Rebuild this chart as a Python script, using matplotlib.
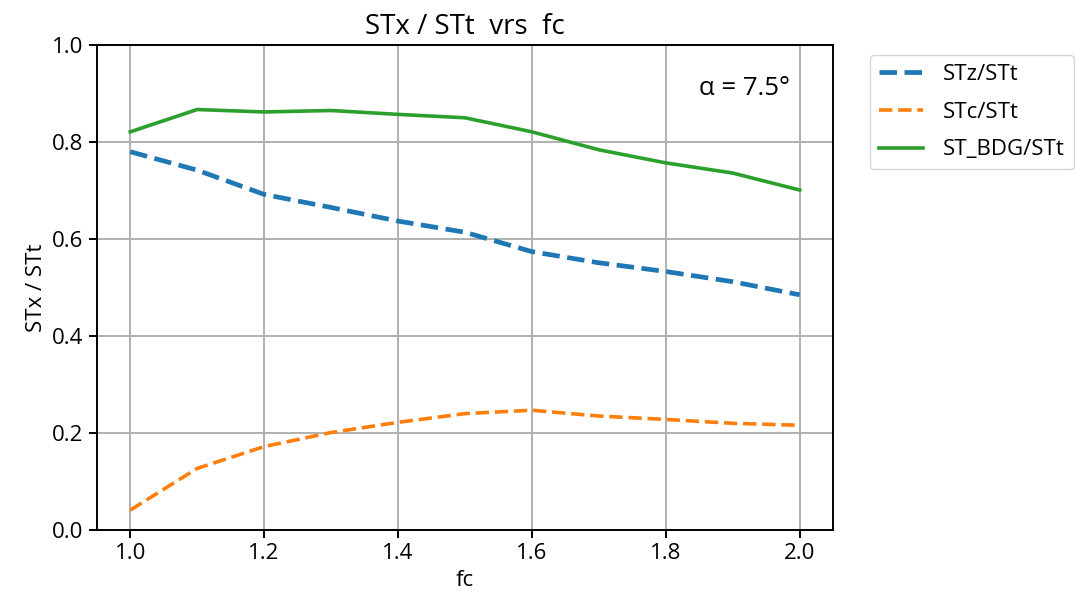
import matplotlib
matplotlib.use("Agg")
import matplotlib.pyplot as plt

plt.rcParams['font.family'] = ['Open Sans', 'DejaVu Sans']

fc = [1.0, 1.1, 1.2, 1.3, 1.4, 1.5, 1.6, 1.7, 1.8, 1.9, 2.0]
stz = [0.780, 0.742, 0.692, 0.665, 0.637, 0.614, 0.574, 0.551, 0.533, 0.512, 0.485]
stc = [0.041, 0.127, 0.172, 0.201, 0.222, 0.240, 0.247, 0.235, 0.228, 0.220, 0.216]
st_bdg = [0.821, 0.867, 0.862, 0.865, 0.857, 0.850, 0.821, 0.784, 0.757, 0.736, 0.701]

fig = plt.figure(figsize=(10.75, 5.98), dpi=100)
ax = fig.add_axes([0.090, 0.1137, 0.685, 0.811])

ax.plot(fc, stz, '--', color='#1f77b4', lw=3.4, label='STz/STt')
ax.plot(fc, stc, '--', color='#ff7f0e', lw=2.6, label='STc/STt')
ax.plot(fc, st_bdg, '-', color='#2ca02c', lw=2.6, label='ST_BDG/STt')

ax.set_ylim(0, 1.0)
ax.set_xticks([1.0, 1.2, 1.4, 1.6, 1.8, 2.0])
ax.set_yticks([0.0, 0.2, 0.4, 0.6, 0.8, 1.0])
ax.grid(True, color='#b0b0b0', lw=1.4)
ax.tick_params(labelsize=16, length=6, width=1.4)
for s in ax.spines.values():
    s.set_linewidth(1.4)

ax.set_title('STx / STt  vrs  fc', fontsize=20, pad=8)
ax.set_xlabel('fc', fontsize=16)
ax.set_ylabel('STx / STt', fontsize=16)
ax.text(0.942, 0.911, 'α = 7.5°', transform=ax.transAxes, ha='right', va='center', fontsize=18.5)

ax.legend(bbox_to_anchor=(1.05, 0.979), loc='upper left', borderaxespad=0,
          fontsize=16, handlelength=2.0, handletextpad=0.9, labelspacing=0.75)

fig.savefig('out.png', dpi=100)
